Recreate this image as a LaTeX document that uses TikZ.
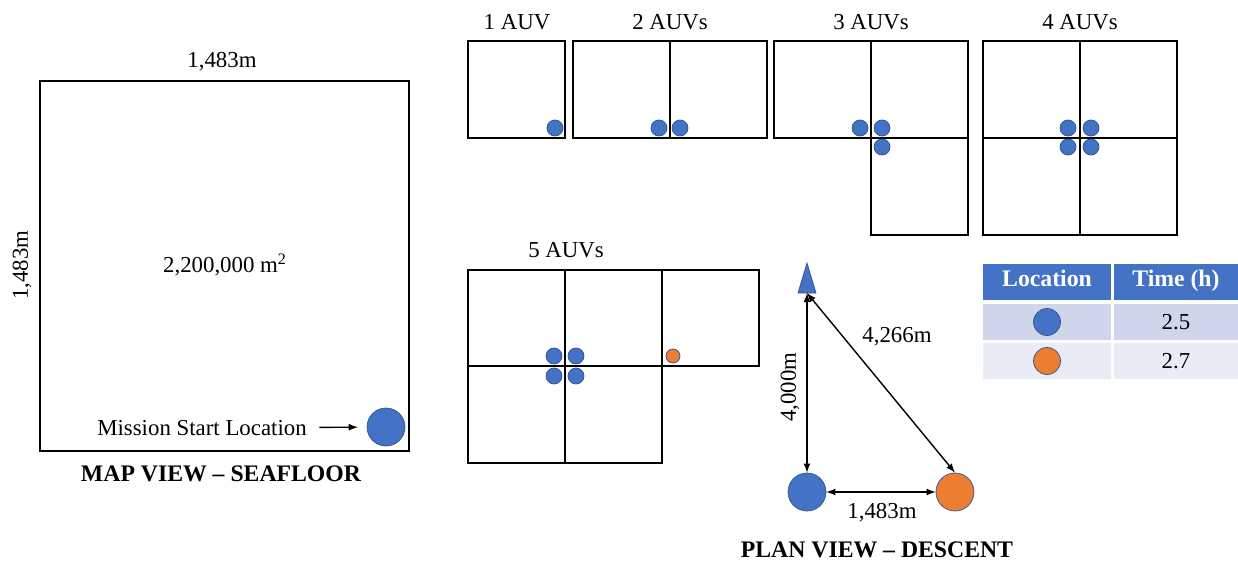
\documentclass[tikz,border=0pt]{standalone}
\usepackage{fontspec}
\setmainfont{Liberation Serif}
\usetikzlibrary{arrows,positioning}
\definecolor{auvblue}{HTML}{4472C4}
\definecolor{auvorange}{HTML}{ED7D31}
\definecolor{auvedge}{HTML}{2F528F}
\definecolor{rowdark}{HTML}{CFD5EA}
\definecolor{rowlight}{HTML}{E9EBF5}

\begin{document}
\begin{tikzpicture}[
    x=0.02cm, y=-0.02cm,
    font=\fontsize{13}{15}\selectfont,
    cell/.style={draw=black, line width=0.9pt},
    label/.style={inner sep=1pt},
    title/.style={font=\fontsize{13.5}{15}\selectfont\bfseries},
    dot/.style={circle, fill=auvblue, draw=auvedge, line width=0.4pt, minimum size=0.32cm, inner sep=0pt},
    odot/.style={dot, fill=auvorange, minimum size=0.28cm},
    bigdot/.style={dot, minimum size=0.76cm},
    bigodot/.style={bigdot, fill=auvorange},
    headcell/.style={rectangle, fill=auvblue, draw=white, line width=1.2pt, minimum height=0.78cm, text height=1.7ex, text depth=0.5ex, text=white, font=\fontsize{13.5}{15}\selectfont\bfseries},
    rowcell/.style={rectangle, draw=white, line width=1.2pt, minimum height=0.78cm},
    arrow/.style={->,>=latex, line width=0.8pt},
    darrow/.style={<->,>=latex, line width=0.8pt}
]
\useasboundingbox (0,0) rectangle (1238,561);

% map view
\draw[cell] (40,81) rectangle (409,451);
\node[label] (mapw) at (222,62) {1,483m};
\node[label, rotate=90] (maph) at (22,265) {1,483m};
\node[label] (area) at (225,265) {2,200,000 m\textsuperscript{2}};
\node[bigdot] (start) at (386,427) {};
\node[label] (msl) at (202,428) {Mission Start Location};
\draw[arrow, shorten <=6pt, shorten >=5pt] (msl) -- (start);
\node[title] (mapttl) at (221,474) {MAP VIEW -- SEAFLOOR};

% 1 AUV
\node[label] (n1) at (517,22) {1 AUV};
\draw[cell] (468,41) rectangle (565,138);
\node[dot] (a1) at (555,128) {};

% 2 AUVs
\node[label] (n2) at (670,22) {2 AUVs};
\draw[cell] (573,41) rectangle (767,138);
\draw[cell] (670,41) -- (670,138);
\node[dot] (b1) at (659,128) {};
\node[dot] (b2) at (680,128) {};

% 3 AUVs
\node[label] (n3) at (871,22) {3 AUVs};
\draw[cell] (774,41) rectangle (968,138);
\draw[cell] (871,41) -- (871,138);
\draw[cell] (871,138) rectangle (968,235);
\node[dot] (c1) at (860,128) {};
\node[dot] (c2) at (882,128) {};
\node[dot] (c3) at (882,147) {};

% 4 AUVs
\node[label] (n4) at (1080,22) {4 AUVs};
\draw[cell] (983,41) rectangle (1177,235);
\draw[cell] (1080,41) -- (1080,235);
\draw[cell] (983,138) -- (1177,138);
\foreach \dx/\dy [count=\i] in {1068/128, 1091/128, 1068/147, 1091/147}
    \node[dot] (d\i) at (\dx,\dy) {};

% 5 AUVs
\node[label] (n5) at (566,250) {5 AUVs};
\draw[cell] (468,270) rectangle (662,463);
\draw[cell] (565,270) -- (565,463);
\draw[cell] (468,366) -- (662,366);
\draw[cell] (662,270) rectangle (759,366);
\foreach \dx/\dy [count=\i] in {554/356, 576/356, 554/376, 576/376}
    \node[dot] (e\i) at (\dx,\dy) {};
\node[odot] (e5) at (673,356) {};

% plan view
\fill[auvblue, draw=auvedge, line width=0.4pt] (807,263) -- (816,293) -- (798,293) -- cycle;
\coordinate (apex) at (807,293);
\node[bigdot] (drop) at (807,492) {};
\node[bigodot] (land) at (955,492) {};
\draw[darrow] (apex) -- (drop);
\draw[darrow] (apex) -- (land.north);
\draw[darrow] (drop) -- (land);
\node[label, rotate=90] (vert) at (790,387) {4,000m};
\node[label] (diag) at (897,337) {4,266m};
\node[label] (horz) at (882,513) {1,483m};
\node[title] (planttl) at (877,550) {PLAN VIEW -- DESCENT};

% table
\node[headcell, minimum width=2.62cm] (hloc) at (1047,282) {Location};
\node[headcell, minimum width=2.54cm] (htime) at (1176,282) {Time (h)};
\node[rowcell, fill=rowdark, minimum width=2.62cm] (r1loc) at (1047,322) {};
\node[rowcell, fill=rowdark, minimum width=2.54cm] (r1time) at (1176,322) {2.5};
\node[rowcell, fill=rowlight, minimum width=2.62cm] (r2loc) at (1047,361) {};
\node[rowcell, fill=rowlight, minimum width=2.54cm] (r2time) at (1176,361) {2.7};
\node[dot, minimum size=0.54cm] (t1) at (r1loc) {};
\node[odot, minimum size=0.54cm] (t2) at (r2loc) {};

\end{tikzpicture}
\end{document}
